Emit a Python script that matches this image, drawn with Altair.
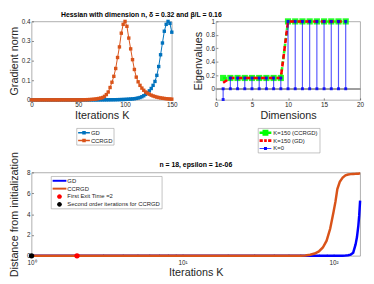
import altair as alt
import pandas as pd

FONT = "Liberation Sans"

# ---------------- data: top-left (gradient norm) ----------------
tl_iters = list(range(0, 151, 2))
tl_gd = [0.0, 0.0, 0.0, 0.0, 0.0, 0.0, 0.0, 0.0, 0.0, 0.0, 0.0, 0.0,
         0.0, 0.0, 0.0, 0.0, 0.0, 0.0, 0.0, 0.0, 0.0, 0.0, 0.0, 0.0,
         0.0, 0.0, 0.0, 0.0, 0.0, 0.0, 0.0, 0.0, 0.0, 0.0, 0.0, 0.0,
         0.0002, 0.0002, 0.0003, 0.0003, 0.0004, 0.0005, 0.0006, 0.0007, 0.0008, 0.001,
         0.0012, 0.0014, 0.0017, 0.002, 0.0024, 0.0029, 0.0035, 0.0042, 0.005, 0.006,
         0.0075, 0.0095, 0.012, 0.016, 0.021, 0.028, 0.036, 0.046, 0.058, 0.074,
         0.094, 0.125, 0.17, 0.23, 0.29, 0.35, 0.385, 0.40, 0.39, 0.345]
tl_ccrgd = [0.0, 0.0, 0.0, 0.0, 0.0, 0.0, 0.0, 0.0, 0.0, 0.0, 0.0, 0.0, 0.0, 0.0,
            0.0, 0.0, 0.0, 0.0, 0.0, 0.0, 0.0, 0.0, 0.0, 0.0, 0.0, 0.0, 0.0, 0.0,
            0.0008, 0.001, 0.0013, 0.0017, 0.0022, 0.003, 0.004, 0.0055, 0.0072, 0.0092,
            0.012, 0.018, 0.027, 0.04, 0.063, 0.09, 0.12, 0.16, 0.216, 0.27,
            0.34, 0.385, 0.40, 0.375, 0.315, 0.26, 0.205, 0.155, 0.116, 0.092,
            0.074, 0.06, 0.049, 0.04, 0.034, 0.029, 0.024, 0.02, 0.017, 0.014,
            0.012, 0.01, 0.0085, 0.0072, 0.006, 0.005, 0.0043, 0.0036]
tl_names = ["GD", "CCRGD"]

# ---------------- data: top-right (eigenvalues) ----------------
dims = [1, 2, 3, 4, 5, 6, 7, 8, 9, 10, 11, 12, 13, 14, 15, 16, 17, 18]
eig_ccrgd = [0.16, 0.16, 0.16, 0.16, 0.16, 0.16, 0.16, 0.16, 0.16,
             1.0, 1.0, 1.0, 1.0, 1.0, 1.0, 1.0, 1.0, 1.0]
eig_gd = [0.09, 0.16, 0.16, 0.16, 0.16, 0.16, 0.16, 0.16, 0.16,
          1.0, 1.0, 1.0, 1.0, 1.0, 1.0, 1.0, 1.0, 1.0]
eig_hess = [-0.16, 0.16, 0.16, 0.16, 0.16, 0.16, 0.16, 0.16, 0.16,
            1.0, 1.0, 1.0, 1.0, 1.0, 1.0, 1.0, 1.0, 1.0]
eig_k0 = [0.0, 0.0, 0.0, 0.0, 0.0, 0.0, 0.0, 0.0, 0.0,
          0.0, 0.0, 0.0, 0.0, 0.0, 0.0, 0.0, 0.0, 0.0]
tr_names = ["K=150 (CCRGD)", "K=150 (GD)", "K=0"]

# ---------------- data: bottom (distance) ----------------
bt_iters = [1, 2, 5, 10, 20, 40, 60, 65, 70, 75, 80, 85, 90, 95, 100, 103, 106,
            110, 115, 120, 125, 130, 135, 140, 143, 146, 148, 150]
bt_ccrgd = [0, 0, 0, 0, 0, 0, 0.01, 0.04, 0.1, 0.22, 0.42, 0.8, 1.45, 2.6, 4.2, 5.2,
            6.4, 7.1, 7.5, 7.72, 7.8, 7.84, 7.86, 7.87, 7.88, 7.88, 7.89, 7.89]
bt_gd = [0, 0, 0, 0, 0, 0, 0, 0, 0, 0, 0, 0, 0, 0, 0, 0.003, 0.005,
         0.008, 0.015, 0.03, 0.06, 0.12, 0.3, 1.1, 1.8, 2.9, 3.9, 5.3]
dot_names = ["Second order iterations for CCRGD", "First Exit Time =2"]
dot_iters = [1, 2]
dot_vals = [0, 0]
bt_names = ["GD", "CCRGD", "First Exit Time =2", "Second order iterations for CCRGD"]

# ---------------- styles ----------------
M_BLUE, M_ORANGE = "#0072BD", "#D95319"
GREEN, RED, BLUE = "#00ff00", "#ff0000", "#0000ff"


def mk_legend(lx, ly, loff):
    return alt.Legend(title=None, orient="none", legendX=lx, legendY=ly,
                      symbolSize=36, symbolStrokeWidth=0, labelOffset=loff,
                      padding=1.5, rowPadding=2, fillColor="white",
                      strokeColor="#9a9a9a", labelFont=FONT, labelFontSize=6,
                      labelColor="#262626", labelLimit=300)


# ---------------- top-left ----------------
tl_df = pd.DataFrame({"K": tl_iters + tl_iters, "v": tl_gd + tl_ccrgd,
                      "s": ["GD"] * len(tl_iters) + ["CCRGD"] * len(tl_iters)})
X1 = alt.X("K:Q", scale=alt.Scale(domain=[0, 150], nice=False),
           axis=alt.Axis(values=[0, 50, 100, 150], title="Iterations K"))
Y1 = alt.Y("v:Q", scale=alt.Scale(domain=[0, 0.4], nice=False),
           axis=alt.Axis(values=[0, 0.1, 0.2, 0.3, 0.4], format="~g", title="Gradient norm"))
b1 = alt.Chart(tl_df)
tl_layers = []
for name, col in [("GD", M_BLUE), ("CCRGD", M_ORANGE)]:
    f = b1.transform_filter(alt.datum.s == name)
    tl_layers.append(f.mark_line(color=col, strokeWidth=1).encode(x=X1, y=Y1))
    tl_layers.append(f.mark_point(shape="square", filled=True, size=12, color=col,
                                  opacity=1).encode(x=X1, y=Y1))
p_tl = "M-1,-0.25H3V0.25H-1Z M0.4,-0.6H1.6V0.6H0.4Z"
L1 = mk_legend(46, 109, 7)
tl_layers.append(b1.transform_filter("false").mark_point(filled=True, size=36, opacity=1).encode(
    x=X1, y=Y1,
    color=alt.Color("s:N", scale=alt.Scale(domain=tl_names, range=[M_BLUE, M_ORANGE]), legend=L1),
    shape=alt.Shape("s:N", scale=alt.Scale(domain=tl_names, range=[p_tl, p_tl]), legend=L1)))
tl = alt.layer(*tl_layers).properties(
    width=143, height=80,
    title=alt.TitleParams("Hessian with dimension n, δ = 0.32 and β/L = 0.16",
                          anchor="start", frame="group", align="center", dx=112, offset=0))

# ---------------- top-right ----------------
tr_df = pd.DataFrame({"d": dims, "cc": eig_ccrgd, "gd": eig_gd, "h": eig_hess, "z": eig_k0})
X2 = alt.X("d:Q", scale=alt.Scale(domain=[0, 20], nice=False),
           axis=alt.Axis(values=[0, 5, 10, 15, 20], title="Dimensions"))
ys2 = alt.Scale(domain=[-0.165, 1], nice=False, zero=False)


def Y2(f):
    return alt.Y(f + ":Q", scale=ys2,
                 axis=alt.Axis(values=[0, 0.2, 0.4, 0.6, 0.8, 1], format="~g", title="Eigenvalues"))


b2 = alt.Chart(tr_df)
p_g = "M-1,-0.4H3V0.4H-1Z M0,-1H2V1H0Z"
p_r = "M-1,-0.45H0.1V0.45H-1Z M0.55,-0.45H1.45V0.45H0.55Z M1.9,-0.45H3V0.45H1.9Z"
p_b = "M-1,-0.13H3V0.13H-1Z M0.5,-0.5H1.5V0.5H0.5Z"
L2 = mk_legend(43, 109, 8)
tr = alt.layer(
    b2.mark_rule(color="#a0a0a0", strokeWidth=0.8).encode(y=Y2("z")),
    b2.mark_line(color=GREEN, strokeWidth=2.6, strokeDash=[4, 2], opacity=0.85).encode(x=X2, y=Y2("cc")),
    b2.mark_point(shape="square", filled=True, size=40, color=GREEN, opacity=0.85).encode(x=X2, y=Y2("cc")),
    b2.mark_line(color=RED, strokeWidth=2.6, strokeDash=[5, 3]).encode(x=X2, y=Y2("gd")),
    b2.mark_rule(color=BLUE, strokeWidth=1.2, opacity=0.65).encode(x=X2, y=Y2("z"), y2=alt.Y2("h")),
    b2.mark_point(shape="square", filled=True, size=9, color=BLUE, opacity=0.85).encode(x=X2, y=Y2("h")),
    b2.mark_point(shape="square", filled=True, size=9, color=BLUE, opacity=0.85).encode(x=X2, y=Y2("z")),
    b2.transform_filter("false").mark_point(filled=True, size=36, opacity=1).encode(
        x=X2, y=Y2("z"),
        color=alt.Color("s:N", scale=alt.Scale(domain=tr_names, range=[GREEN, RED, BLUE]), legend=L2),
        shape=alt.Shape("s:N", scale=alt.Scale(domain=tr_names, range=[p_g, p_r, p_b]), legend=L2)),
).properties(width=147, height=80)

# ---------------- bottom ----------------
bt_df = pd.DataFrame({"K": bt_iters, "gd": bt_gd, "cc": bt_ccrgd})
dot_df = pd.DataFrame({"K": dot_iters, "v": dot_vals, "s": dot_names})
X3 = alt.X("K:Q", scale=alt.Scale(type="log", domain=[1, 150], nice=False),
           axis=alt.Axis(values=[1, 2, 3, 4, 5, 6, 7, 8, 9, 10, 20, 30, 40, 50, 60, 70, 80, 90, 100],
                         labelExpr="datum.value == 1 ? '10⁰' : datum.value == 10 ? '10¹' : datum.value == 100 ? '10²' : ''",
                         labelOverlap=False, labelPadding=3.5, titlePadding=1, title="Iterations K"))
ys3 = alt.Scale(domain=[0, 8], nice=False)


def Y3(f):
    return alt.Y(f + ":Q", scale=ys3,
                 axis=alt.Axis(values=[0, 2, 4, 6, 8], title="Distance from initialization", titlePadding=7))


b3 = alt.Chart(bt_df)
b4 = alt.Chart(dot_df)
p_line = "M-1,-0.33H3.67V0.33H-1Z"
p_dot = "M1.33,-0.8A0.8,0.8,0,1,1,1.33,0.8A0.8,0.8,0,1,1,1.33,-0.8Z"
L3 = mk_legend(20, 4, 9)
bt = alt.layer(
    b3.mark_line(color=BLUE, strokeWidth=2.5).encode(x=X3, y=Y3("gd")),
    b3.mark_line(color=M_ORANGE, strokeWidth=2.5).encode(x=X3, y=Y3("cc")),
    b4.transform_filter(alt.datum.s == dot_names[0]).mark_point(
        filled=True, size=30, color="black", opacity=1).encode(x=X3, y=Y3("v")),
    b4.transform_filter(alt.datum.s == dot_names[1]).mark_point(
        filled=True, size=30, color=RED, opacity=1).encode(x=X3, y=Y3("v")),
    b4.transform_filter("false").mark_point(filled=True, size=36, opacity=1).encode(
        x=X3, y=Y3("v"),
        color=alt.Color("s:N", scale=alt.Scale(domain=bt_names, range=[BLUE, M_ORANGE, RED, "black"]), legend=L3),
        shape=alt.Shape("s:N", scale=alt.Scale(domain=bt_names, range=[p_line, p_line, p_dot, p_dot]), legend=L3)),
).properties(width=335, height=85,
             title=alt.TitleParams("n = 18, epsilon = 1e-06", anchor="middle", frame="group", offset=-17))

top = alt.HConcatChart(hconcat=[tl, tr], spacing=45, bounds="flush").resolve_scale(
    color="independent", shape="independent").resolve_legend(color="independent", shape="independent")

chart = alt.VConcatChart(
    vconcat=[top, bt], spacing=154, bounds="flush", padding=0,
).resolve_scale(color="independent", shape="independent").resolve_legend(
    color="independent", shape="independent"
).configure(background="white").configure_view(
    stroke="#9a9a9a", strokeWidth=0.8
).configure_axis(
    domain=False, grid=False, ticks=True, tickSize=2, offset=-2, tickColor="#404040",
    tickWidth=0.6, labelFont=FONT, labelFontSize=6.5, labelColor="#262626", labelPadding=1.5,
    labelFlush=False, titleFont=FONT, titleFontSize=11, titleFontWeight="normal",
    titleColor="#262626", titlePadding=2
).configure_legend(strokeWidth=0.6, cornerRadius=0).configure_title(
    font=FONT, fontSize=7, fontWeight="bold", color="black"
)

chart.save("out.html", embed_options={"renderer": "svg", "actions": False})
